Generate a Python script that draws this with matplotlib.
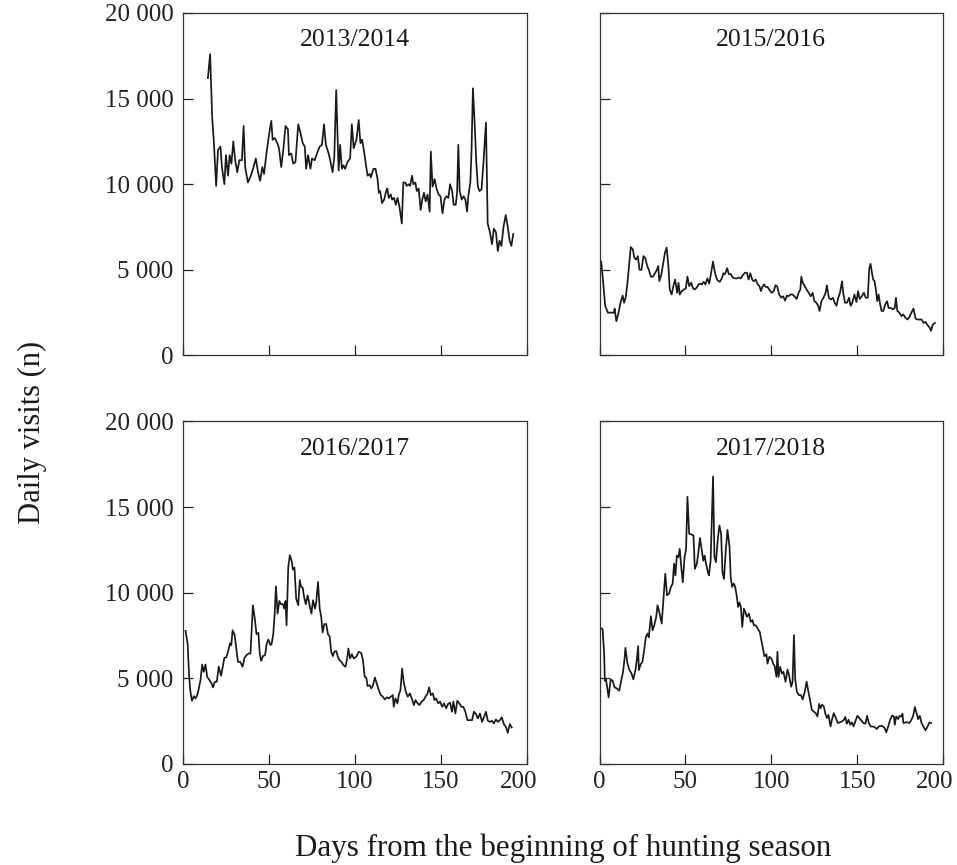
import numpy as np
import matplotlib
matplotlib.use('Agg')
import matplotlib.pyplot as plt
import matplotlib.transforms as mtransforms
from matplotlib.ticker import FuncFormatter

plt.rcParams['font.family'] = ['Liberation Serif', 'DejaVu Serif']

# ---------------- data ----------------
seasons = ['2013/2014', '2015/2016', '2016/2017', '2017/2018']

days_1314 = [14.5, 15.8, 17.0, 17.9, 19.3, 20.4, 21.8, 22.7, 24.1, 25.0, 26.2, 27.2, 28.2, 29.3, 30.4,
             31.6, 32.8, 34.3, 35.3, 36.2, 37.8, 39.5, 40.8, 42.4, 43.7, 44.9, 46.2, 47.2, 48.6, 50.1,
             51.4, 52.2, 53.4, 54.9, 55.9, 57.2, 58.4, 59.7, 61.1, 61.7, 63.0, 64.2, 65.5, 67.1, 68.4,
             69.7, 70.9, 71.7, 72.8, 74.2, 75.1, 76.7, 78.0, 79.6, 80.9, 82.1, 83.2, 84.8, 85.7, 87.1,
             88.1, 89.2, 90.6, 91.5, 92.5, 93.4, 94.4, 95.8, 97.3, 98.3, 99.4, 101.0, 102.3, 103.3, 104.3,
             105.6, 106.7, 107.5, 108.7, 109.4, 110.9, 112.1, 113.3, 114.0, 114.8, 115.9, 117.1, 118.3,
             119.0, 119.8, 121.0, 121.8, 122.9, 123.9, 124.9, 126.0, 127.4, 128.3, 129.5, 130.2, 131.4,
             132.2, 133.4, 134.1, 135.3, 136.1, 137.2, 138.4, 139.3, 140.3, 141.3, 142.4, 143.6, 144.3,
             145.3, 146.5, 147.6, 148.8, 149.9, 151.1, 152.2, 153.4, 154.5, 155.5, 156.7, 157.6, 158.8,
             159.6, 160.3, 161.1, 162.3, 163.4, 164.4, 165.4, 166.1, 167.3, 168.0, 168.8, 169.8, 170.7,
             171.7, 172.6, 173.8, 174.9, 176.4, 177.4, 178.7, 179.9, 181.0, 182.2, 183.3, 184.3, 185.4,
             186.6, 187.9, 189.1, 190.2, 191.2, 192.3]
visits_1314 = [16200, 17600, 13900, 12600, 9900, 12000, 12200, 11000, 10000, 11700, 10500, 11700, 11200,
               12500, 11400, 10700, 11400, 11400, 13400, 11000, 10100, 10500, 10900, 11500, 10700, 10200,
               11000, 10600, 11800, 12900, 13700, 12600, 12700, 12400, 12100, 11000, 12000, 13400, 13200,
               11700, 11800, 11200, 11300, 13500, 13000, 12400, 12200, 10900, 11700, 10900, 11500, 11400,
               11800, 12200, 12300, 13500, 12300, 11800, 11400, 10700, 11600, 15500, 10800, 12300, 10900,
               11100, 10900, 11300, 11500, 13500, 12100, 12600, 13750, 12400, 12600, 11800, 11000, 10500,
               10600, 10400, 10900, 10900, 10300, 9500, 9600, 8900, 9100, 9600, 9750, 9200, 9400, 9100,
               9200, 8800, 9200, 8700, 7700, 10100, 10100, 9900, 10000, 9900, 10500, 10000, 10100, 9600,
               9750, 8500, 9100, 9500, 9000, 9400, 8400, 11900, 9850, 10300, 9750, 9400, 9300, 8300, 9100,
               9300, 9200, 10000, 9600, 8800, 8800, 9500, 12300, 9600, 9100, 9300, 9100, 8400, 9300,
               10100, 12000, 15600, 13600, 11400, 9850, 9600, 9700, 11200, 13600, 7700, 7200, 6500, 7400,
               7200, 6100, 6700, 6400, 7500, 8200, 7500, 6700, 6400, 7100]

days_1516 = [1.0, 1.8, 3.3, 4.9, 6.6, 8.4, 8.8, 9.8, 11.1, 12.3, 13.5, 14.3, 15.2, 16.2, 17.2, 18.2,
             19.4, 20.3, 21.3, 22.3, 23.3, 24.4, 25.6, 26.6, 27.8, 28.7, 29.9, 31.1, 32.3, 33.4, 34.2,
             34.8, 36.0, 37.1, 38.1, 39.1, 40.1, 40.9, 42.0, 43.0, 44.0, 45.2, 46.0, 46.7, 47.9, 49.1,
             50.2, 51.2, 52.2, 53.4, 54.3, 55.3, 56.5, 57.7, 58.6, 59.6, 60.6, 61.6, 62.8, 63.9, 65.1,
             66.1, 67.1, 67.8, 68.8, 70.0, 71.2, 72.1, 73.1, 74.3, 75.3, 76.4, 77.6, 78.8, 80.0, 81.1,
             82.3, 83.5, 84.7, 85.8, 86.8, 87.8, 89.0, 89.9, 90.9, 92.1, 93.1, 94.0, 94.8, 95.8, 96.8,
             97.9, 99.1, 100.3, 101.5, 102.4, 103.4, 104.6, 105.8, 106.9, 108.1, 109.1, 110.0, 111.2,
             112.4, 113.6, 114.8, 115.9, 116.9, 117.5, 118.3, 119.5, 120.6, 121.8, 123.0, 124.1, 125.1,
             126.3, 127.3, 128.1, 129.2, 130.4, 131.6, 132.4, 133.5, 134.7, 135.9, 136.9, 138.0, 139.0,
             140.0, 141.2, 141.9, 142.9, 144.1, 145.3, 146.2, 147.2, 148.4, 149.6, 150.5, 151.5, 152.7,
             153.9, 155.0, 156.2, 157.0, 157.8, 158.6, 159.3, 160.1, 160.9, 161.7, 162.5, 163.3, 164.2,
             165.2, 166.4, 167.4, 168.3, 169.5, 170.7, 171.9, 172.6, 173.4, 174.6, 175.8, 176.9, 178.1,
             179.3, 180.5, 181.6, 182.8, 184.0, 185.1, 186.3, 187.5, 188.7, 189.8, 191.0, 192.2, 193.0,
             194.0, 195.3]
visits_1516 = [5480, 4640, 2900, 2500, 2500, 2500, 2740, 2000, 2500, 3120, 3500, 3080, 3370, 4150, 5220,
               6330, 6200, 5700, 5600, 5800, 5000, 5000, 5800, 5700, 5220, 5000, 4600, 4600, 4800, 5000,
               5220, 4340, 4730, 5400, 6000, 6300, 5220, 3850, 3560, 4050, 4440, 3660, 4250, 3560, 3760,
               3850, 3900, 4600, 4050, 4250, 3950, 3850, 3950, 4150, 4200, 4150, 4300, 4150, 4500, 4200,
               4900, 5480, 4900, 4600, 4380, 4300, 4500, 4800, 4750, 5100, 4750, 4750, 4550, 4500, 4500,
               4550, 4500, 4700, 4830, 4830, 4440, 4800, 4400, 4340, 4440, 4150, 4050, 3760, 4000, 4150,
               4000, 4000, 3800, 3660, 3760, 4100, 4050, 3560, 3370, 3460, 3200, 3500, 3460, 3560, 3560,
               3440, 3300, 3660, 3850, 4600, 4250, 4050, 3850, 3660, 3460, 3660, 3170, 3080, 2900, 2600,
               3170, 3370, 3660, 4100, 3370, 3270, 3370, 3080, 2900, 3370, 3660, 4340, 3660, 3080, 3080,
               3370, 2900, 3080, 3560, 3120, 3760, 3300, 3460, 3660, 3370, 3370, 5050, 5350, 4830, 4440,
               4340, 3850, 3170, 3560, 3040, 2600, 2600, 2980, 3170, 2780, 2780, 2700, 2780, 3370, 2600,
               2500, 2300, 2400, 2200, 2100, 2260, 2500, 2740, 2150, 2100, 2100, 2100, 1900, 1960, 1770,
               1630, 1440, 1800, 1900]

days_1617 = [1.5, 2.7, 3.5, 4.2, 5.2, 6.4, 7.3, 8.3, 9.2, 10.2, 11.2, 12.1, 13.1, 14.1, 15.4, 16.6,
             17.5, 18.5, 19.7, 20.8, 22.2, 23.3, 24.1, 25.2, 26.2, 27.4, 28.1, 28.9, 30.1, 31.2, 32.0,
             33.3, 34.7, 35.8, 37.0, 38.2, 39.3, 39.9, 40.7, 41.8, 42.8, 43.9, 44.7, 45.5, 46.6, 47.8,
             48.7, 49.7, 50.9, 51.6, 52.6, 53.4, 54.1, 55.1, 56.1, 57.0, 58.2, 59.0, 59.7, 60.3, 61.3,
             62.2, 63.2, 64.0, 64.9, 65.9, 67.1, 68.0, 68.8, 69.7, 70.5, 71.5, 72.6, 73.6, 74.8, 75.7,
             76.9, 77.6, 78.6, 79.6, 80.5, 81.3, 82.3, 83.4, 84.4, 85.4, 86.3, 87.3, 88.1, 89.2, 90.2,
             91.1, 92.3, 93.4, 94.6, 95.6, 96.3, 97.3, 98.3, 99.4, 100.9, 102.3, 103.7, 104.8, 105.8,
             106.7, 107.5, 108.7, 109.6, 110.6, 111.7, 112.9, 114.0, 115.2, 116.4, 117.5, 118.7, 119.9,
             121.0, 122.2, 122.7, 123.7, 124.9, 125.6, 126.6, 127.6, 128.5, 129.7, 130.9, 132.1, 133.2,
             134.4, 135.4, 136.6, 137.7, 138.9, 140.1, 141.2, 142.4, 143.3, 144.3, 145.5, 146.4, 147.4,
             148.6, 149.7, 150.9, 152.0, 153.2, 154.3, 155.5, 156.6, 157.4, 158.6, 159.7, 160.9, 162.1,
             163.2, 164.4, 165.6, 167.1, 168.3, 169.4, 170.6, 171.7, 172.9, 174.1, 175.2, 176.4, 177.5,
             178.7, 179.8, 181.0, 182.2, 183.3, 184.5, 185.6, 186.8, 188.0, 189.1, 190.3, 191.4]
visits_1617 = [7770, 7040, 5280, 4310, 3690, 3960, 3820, 4020, 4400, 4900, 5810, 5380, 5810, 5090, 4900,
               4700, 4470, 4800, 4800, 5680, 5150, 5770, 6200, 6220, 6550, 7040, 6940, 7810, 7520, 6640,
               5960, 5960, 5680, 6200, 6360, 6450, 6450, 7620, 9270, 8490, 7580, 7660, 6450, 6020, 6300,
               6360, 7000, 7270, 6940, 7000, 7620, 8780, 10370, 8780, 9520, 9330, 9330, 9070, 9520, 8100,
               11500, 12190, 11900, 11350, 11470, 9660, 9270, 10740, 10340, 10300, 9760, 9330, 9850, 9330,
               8780, 9560, 9070, 9460, 10630, 9070, 8580, 7680, 8170, 8170, 7580, 7430, 6550, 6300, 6550,
               6600, 6260, 6060, 5960, 5770, 5680, 6160, 6740, 6160, 6410, 6160, 6260, 6550, 6490, 6060,
               5090, 5050, 4550, 4600, 4410, 4570, 5050, 4660, 4310, 4020, 3930, 3770, 3890, 3830, 3930,
               4020, 3340, 3830, 3540, 4020, 4310, 5570, 4800, 4220, 3930, 4120, 3830, 3440, 3730, 3540,
               3440, 3640, 3730, 3930, 4120, 4470, 4020, 4120, 3730, 3830, 3540, 3640, 3340, 3540, 3250,
               3500, 3580, 3050, 3640, 2950, 3690, 3540, 3340, 3340, 3050, 2560, 2560, 2560, 3050, 2910,
               2660, 2950, 2460, 2720, 3050, 2520, 2460, 2520, 2370, 2600, 2460, 2560, 2720, 2330, 2170,
               1820, 2330, 2130]

days_1718 = [0.4, 1.8, 2.7, 3.1, 3.7, 4.3, 5.3, 6.5, 7.6, 8.8, 10.2, 11.5, 12.7, 13.7, 14.5, 15.1,
             16.2, 17.4, 18.6, 19.7, 20.9, 21.7, 22.5, 22.9, 24.0, 25.0, 26.0, 27.0, 28.0, 28.7, 29.9,
             30.9, 31.9, 33.0, 33.8, 35.0, 36.2, 37.3, 38.3, 39.3, 40.5, 41.6, 42.6, 43.4, 44.2, 45.0,
             45.9, 46.7, 47.7, 48.5, 49.5, 50.4, 51.2, 52.2, 53.6, 54.7, 55.5, 56.7, 57.7, 58.5, 59.6,
             60.4, 61.2, 62.0, 63.0, 63.7, 64.7, 66.1, 66.9, 67.8, 68.8, 69.8, 70.8, 71.6, 72.5, 73.5,
             74.5, 75.7, 76.4, 77.2, 78.2, 79.0, 80.0, 80.7, 81.5, 82.3, 83.1, 84.1, 85.0, 85.8, 87.0,
             88.0, 89.0, 89.9, 90.9, 92.1, 93.3, 94.2, 95.2, 96.0, 97.2, 97.8, 98.9, 100.1, 101.1,
             102.0, 103.0, 103.6, 104.2, 105.2, 106.2, 107.1, 108.3, 109.5, 110.5, 111.6, 112.4, 113.2,
             113.9, 114.9, 116.1, 117.3, 118.3, 119.5, 120.6, 121.6, 122.6, 123.6, 124.7, 125.9, 126.9,
             127.9, 128.7, 129.6, 130.6, 131.4, 132.4, 133.3, 134.5, 135.3, 136.4, 137.6, 138.8, 139.9,
             141.1, 142.3, 143.1, 144.0, 145.0, 146.0, 147.0, 147.9, 148.9, 150.1, 151.3, 152.4, 153.6,
             154.8, 155.8, 156.8, 157.9, 159.1, 160.3, 161.4, 162.6, 163.8, 165.0, 166.1, 166.9, 168.1,
             169.2, 170.4, 171.4, 171.9, 172.7, 173.9, 174.6, 175.6, 176.4, 176.9, 178.1, 179.3, 180.4,
             181.6, 182.6, 183.6, 184.5, 185.5, 186.5, 187.5, 188.6, 189.8, 191.0, 192.1, 193.1]
visits_1718 = [7970, 7870, 6450, 4860, 4940, 4610, 3890, 4940, 4860, 4470, 4410, 4280, 4900, 5380, 6060,
               6780, 5910, 5480, 5290, 4940, 5480, 6060, 6880, 5480, 5830, 5960, 6640, 7420, 7620, 7390,
               8630, 7810, 8100, 8590, 9270, 8780, 8200, 9750, 11110, 9850, 9950, 10340, 10530, 11700,
               11010, 12170, 12070, 12560, 11390, 10610, 12070, 12560, 15600, 13440, 13400, 13340, 11390,
               11700, 12460, 13200, 12460, 11870, 12170, 11700, 11250, 11010, 11870, 16790, 12100, 11780,
               13050, 13930, 13440, 11190, 10800, 12460, 13670, 12680, 10900, 10340, 10530, 10340, 9750,
               9170, 9430, 9170, 8000, 9070, 8840, 8590, 8780, 8300, 8400, 8100, 8100, 7910, 7710, 7230,
               6740, 6290, 6400, 5860, 6260, 6160, 5860, 5710, 5090, 6550, 5090, 5670, 5280, 5380, 4800,
               5520, 5090, 4510, 4800, 7520, 4990, 4220, 4020, 4020, 3770, 4220, 4800, 4220, 3730, 3160,
               3060, 2970, 2770, 3510, 3260, 3460, 3360, 2970, 2680, 2870, 2190, 2580, 2970, 2680, 2390,
               2430, 2480, 2580, 2740, 2350, 2580, 2290, 2430, 2190, 2480, 2810, 2680, 2540, 2390, 2350,
               2810, 2390, 2190, 2190, 2150, 2040, 2190, 2230, 2190, 2090, 1840, 2190, 2580, 2830, 2770,
               2290, 2770, 2620, 2810, 2770, 2930, 2390, 2430, 2430, 2390, 2580, 2810, 3320, 3000, 2620,
               2810, 2390, 2190, 1960, 2190, 2430, 2390]

all_days = [days_1314, days_1516, days_1617, days_1718]
all_visits = [visits_1314, visits_1516, visits_1617, visits_1718]

y_ticks = [0, 5000, 10000, 15000, 20000]
x_ticks = [0, 50, 100, 150, 200]

# ---------------- figure ----------------
fig, axes = plt.subplots(2, 2, figsize=(9.57, 8.65), dpi=100, sharex=True, sharey=True)
fig.subplots_adjust(left=0.1912, right=0.9854, top=0.985, bottom=0.1168, wspace=0.2125, hspace=0.1927)

def thousands(v, pos):
    v = int(v)
    if v == 0:
        return '0'
    return f'{v // 1000} {v % 1000:03d}'

for ax, season, d, v in zip(axes.flat, seasons, all_days, all_visits):
    ax.plot(d, v, color='#1a1a1a', lw=1.25)
    ax.set_xlim(0, 200)
    ax.set_ylim(0, 20000)
    ax.set_xticks(x_ticks)
    ax.set_yticks(y_ticks)
    ax.yaxis.set_major_formatter(FuncFormatter(thousands))
    ax.tick_params(direction='in', length=7, width=0.9, labelsize=18, colors='#222222')
    ax.tick_params(axis='x', pad=5)
    ax.tick_params(axis='y', pad=7)
    for sp in ax.spines.values():
        sp.set_color('#333333')
        sp.set_linewidth(0.9)
    ax.text(0.5, 0.92, season, transform=ax.transAxes, ha='center', va='center', fontsize=18.5,
            color='#1a1a1a')

# the "200" labels sit a little left of their tick in the original
shift = mtransforms.ScaledTranslation(-8 / 100, 0, fig.dpi_scale_trans)
for ax in axes[1]:
    lab = ax.xaxis.get_major_ticks()[-1].label1
    lab.set_transform(lab.get_transform() + shift)

fig.text(563 / 957, 1 - 848 / 865, 'Days from the beginning of hunting season', ha='center', va='center',
         fontsize=22.3, color='#1a1a1a')
fig.text(32 / 957, 1 - 432 / 865, 'Daily visits (n)', rotation=90, ha='center', va='center',
         fontsize=22, color='#1a1a1a')

fig.savefig('out.png', dpi=100)
